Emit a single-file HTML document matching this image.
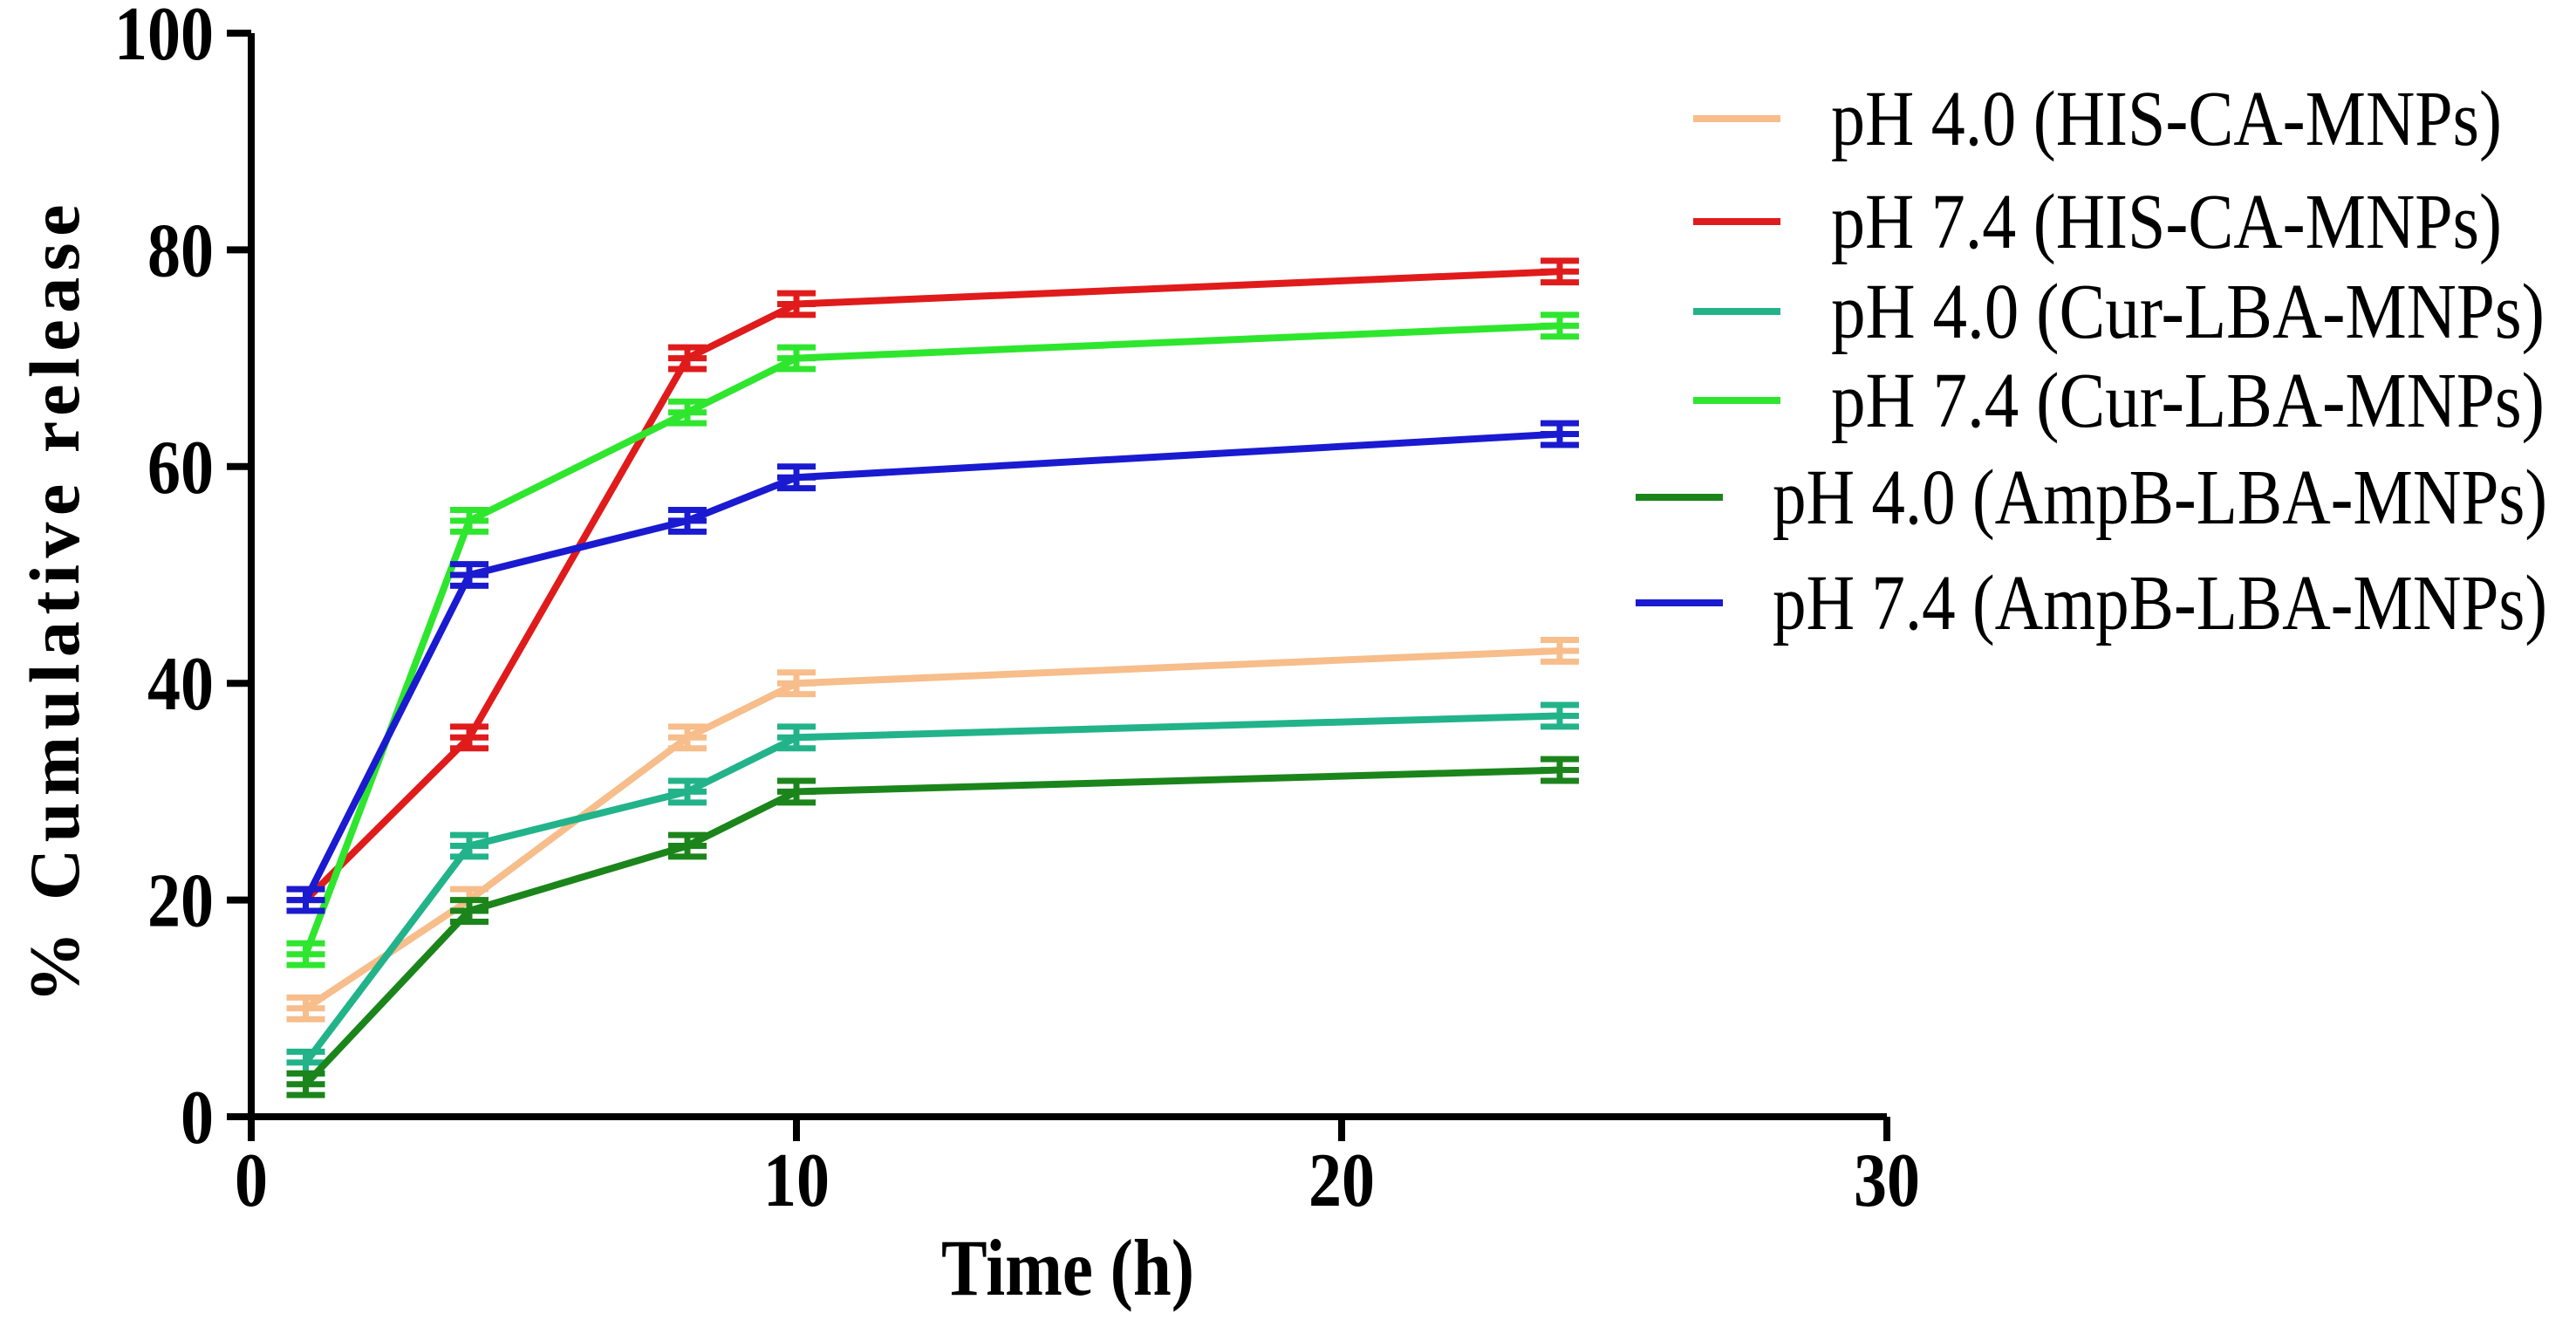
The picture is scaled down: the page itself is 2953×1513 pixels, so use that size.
<!DOCTYPE html>
<html><head><meta charset="utf-8"><style>
html,body{margin:0;padding:0;background:#fff;}
svg{display:block;}
text{font-family:"Liberation Serif",serif;}
</style></head><body>
<svg id="chart" width="2953" height="1513" viewBox="0 0 2953 1513" xmlns="http://www.w3.org/2000/svg"></svg>
<script>
const times = [1, 4, 8, 10, 24];
const seriesNames = ["pH 4.0 (HIS-CA-MNPs)","pH 7.4 (HIS-CA-MNPs)","pH 4.0 (Cur-LBA-MNPs)","pH 7.4 (Cur-LBA-MNPs)","pH 4.0 (AmpB-LBA-MNPs)","pH 7.4 (AmpB-LBA-MNPs)"];
const hisPH4 = [10, 20, 35, 40, 43];
const hisPH74 = [20, 35, 70, 75, 78];
const curPH4 = [5, 25, 30, 35, 37];
const curPH74 = [15, 55, 65, 70, 73];
const ampPH4 = [3, 19, 25, 30, 32];
const ampPH74 = [20, 50, 55, 59, 63];
const errs = [1, 1, 1, 1, 1];
const xTicks = [0, 10, 20, 30];
const yTicks = [0, 20, 40, 60, 80, 100];

const svg = document.getElementById('chart');
const NS = 'http://www.w3.org/2000/svg';
const X0 = 288, X1 = 2163, Y0 = 1280, Y1 = 38;
const xs = v => X0 + (v / 30) * (X1 - X0);
const ys = v => Y0 - (v / 100) * (Y0 - Y1);
function mk(tag, attrs, parent) {
  const e = document.createElementNS(NS, tag);
  for (const k in attrs) e.setAttribute(k, attrs[k]);
  (parent || svg).appendChild(e);
  return e;
}
const colors = ["#f7bd8b", "#e01b1b", "#22b38a", "#2ee62e", "#1b851b", "#1a1ad0"];
const data = [hisPH4, hisPH74, curPH4, curPH74, ampPH4, ampPH74];
const keys = ["his-ph4", "his-ph74", "cur-ph4", "cur-ph74", "ampb-ph4", "ampb-ph74"];

const drawOrder = [0, 2, 4, 1, 3, 5];
drawOrder.forEach(i => {
  const g = mk('g', {});
  
  
  const pts = times.map((t, j) => xs(t) + ',' + ys(data[i][j])).join(' ');
  const pl = mk('polyline', {points: pts, fill: 'none', stroke: colors[i], 'stroke-width': 8, 'stroke-linejoin': 'round'}, g);
  
  
  times.forEach((t, j) => {
    const cx = xs(t), v = data[i][j], e = errs[j];
    const eb = mk('path', {d: `M${cx-22},${ys(v+e)}H${cx+22}M${cx},${ys(v+e)}V${ys(v-e)}M${cx-22},${ys(v-e)}H${cx+22}M${cx-22},${ys(v)}H${cx+22}`, stroke: colors[i], 'stroke-width': 7, fill: 'none'}, g);
    
    
  });
});

const ax = mk('path', {d: `M${X0},${Y1}V${Y0}H${X1}`, stroke: '#000', 'stroke-width': 8, fill: 'none'});


yTicks.forEach(v => {
  const y = ys(v);
  const t = mk('line', {x1: X0 - 28, x2: X0, y1: y, y2: y, stroke: '#000', 'stroke-width': 8});
  
  
  const l = mk('text', {x: 0, y: 0, 'text-anchor': 'end', 'font-size': 76, 'font-weight': 'bold', transform: `translate(245,${y + 30}) scale(1,1.15)`});
  l.textContent = v;
  
  
});
xTicks.forEach(v => {
  const x = xs(v);
  const t = mk('line', {x1: x, x2: x, y1: Y0, y2: Y0 + 28, stroke: '#000', 'stroke-width': 8});
  
  
  const l = mk('text', {x: 0, y: 0, 'text-anchor': 'middle', 'font-size': 76, 'font-weight': 'bold', transform: `translate(${x},1382) scale(1,1.15)`});
  l.textContent = v;
  
  
});
const xt = mk('text', {x: 0, y: 0, 'text-anchor': 'middle', 'font-size': 80, 'font-weight': 'bold', textLength: 290, lengthAdjust: 'spacingAndGlyphs', transform: 'translate(1224,1484) scale(1,1.15)'});
xt.textContent = 'Time (h)';


const yt = mk('text', {x: 0, y: 0, 'text-anchor': 'middle', 'font-size': 82, 'font-weight': 'bold', textLength: 915, lengthAdjust: 'spacing', transform: 'translate(90,692) rotate(-90)'});
yt.textContent = '% Cumulative release';



const legY = [136, 254, 357, 459, 570, 691];
const legLineX = [1941, 1941, 1941, 1941, 1875, 1875];
const legTextX = [2099, 2099, 2099, 2099, 2032, 2032];
const legTextW = [769, 769, 818, 818, 888, 888];
seriesNames.forEach((n, i) => {
  const g = mk('g', {});
  
  
  mk('line', {x1: legLineX[i], x2: legLineX[i] + 100, y1: legY[i], y2: legY[i], stroke: colors[i], 'stroke-width': 8}, g);
  const t = mk('text', {x: 0, y: 0, 'font-size': 80, textLength: legTextW[i], lengthAdjust: 'spacingAndGlyphs', transform: `translate(${legTextX[i]},${legY[i] + 30}) scale(1,1.12)`}, g);
  t.textContent = n;
});
</script>
</body></html>
